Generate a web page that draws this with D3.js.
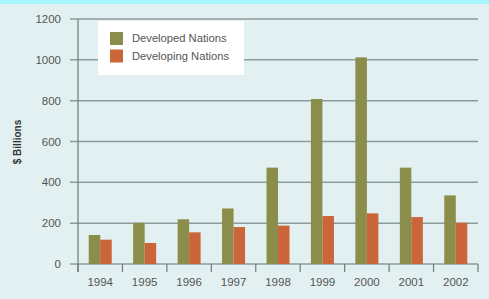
<!DOCTYPE html>
<html>
<head>
<meta charset="utf-8">
<script src="https://cdn.jsdelivr.net/npm/d3@7"></script>
<style>
  body { margin: 0; background: #e2f0f1; }
  svg { display: block; }
</style>
</head>
<body>
<div id="viz_canvas"></div>
<script>
"use strict";

var years = ["1994", "1995", "1996", "1997", "1998", "1999", "2000", "2001", "2002"];
var developed = [142, 202, 219, 272, 472, 808, 1012, 472, 336];
var developing = [119, 103, 155, 181, 188, 235, 248, 230, 202];
var seriesNames = ["Developed Nations", "Developing Nations"];
var seriesColors = ["#8b8e4a", "#cb653a"];
var yTicks = [0, 200, 400, 600, 800, 1000, 1200];

var width = 489, height = 299;
var svg = d3.select("#viz_canvas").append("svg")
    .attr("width", width)
    .attr("height", height);

svg.append("rect")
    .attr("width", width).attr("height", height)
    .attr("fill", "#e2f0f1");
svg.append("rect")
    .attr("width", width).attr("height", 4)
    .attr("fill", "#a4f6fc");

var plotLeft = 78, plotRight = 478, plotTop = 19, plotBottom = 264;

var x = d3.scaleBand().domain(years).range([plotLeft, plotRight]).paddingInner(0).paddingOuter(0);
var y = d3.scaleLinear().domain([0, 1200]).range([plotBottom, plotTop]);
var barW = 11.5;

// grid lines + y ticks
svg.append("g")
    .selectAll("line")
    .data(yTicks)
    .enter().append("line")
    .attr("x1", plotLeft - 8)
    .attr("x2", plotRight)
    .attr("y1", function (d) { return y(d); })
    .attr("y2", function (d) { return y(d); })
    .attr("stroke", "#8c9b9b")
    .attr("stroke-width", 1.5);

svg.append("g")
    .selectAll("text")
    .data(yTicks)
    .enter().append("text")
    .attr("x", 61)
    .attr("y", function (d) { return y(d); })
    .attr("dy", "0.35em")
    .attr("text-anchor", "end")
    .attr("font-family", "Liberation Sans, Arial, sans-serif")
    .attr("font-size", 11.5)
    .attr("fill", "#555")
    .text(function (d) { return d; });

// y axis line
svg.append("line")
    .attr("x1", plotLeft).attr("x2", plotLeft)
    .attr("y1", plotTop).attr("y2", plotBottom + 8)
    .attr("stroke", "#6e7a7a")
    .attr("stroke-width", 1.2);

// bars
var groups = svg.append("g")
    .selectAll("g")
    .data(years)
    .enter().append("g")
    .attr("transform", function (d) {
        return "translate(" + (x(d) + x.bandwidth() / 2 - barW) + ",0)";
    });

groups.append("rect")
    .attr("x", 0)
    .attr("y", function (d, i) { return y(developed[i]); })
    .attr("width", barW)
    .attr("height", function (d, i) { return plotBottom - y(developed[i]); })
    .attr("fill", seriesColors[0]);

groups.append("rect")
    .attr("x", barW)
    .attr("y", function (d, i) { return y(developing[i]); })
    .attr("width", barW)
    .attr("height", function (d, i) { return plotBottom - y(developing[i]); })
    .attr("fill", seriesColors[1]);

// x axis
var xAxis = d3.axisBottom(x).tickSize(0).tickPadding(14);
var gx = svg.append("g")
    .attr("transform", "translate(0," + plotBottom + ")")
    .call(xAxis);
gx.select(".domain").remove();
gx.selectAll("text")
    .attr("font-family", "Liberation Sans, Arial, sans-serif")
    .attr("font-size", 11.5)
    .attr("fill", "#555");

var boundaries = years.map(function (d) { return x(d); }).concat([plotRight]);
svg.append("g")
    .selectAll("line")
    .data(boundaries)
    .enter().append("line")
    .attr("x1", function (d) { return d; })
    .attr("x2", function (d) { return d; })
    .attr("y1", plotBottom)
    .attr("y2", plotBottom + 8)
    .attr("stroke", "#6e7a7a")
    .attr("stroke-width", 1.2);

// y label
svg.append("text")
    .attr("transform", "translate(21," + 142 + ") rotate(-90)")
    .attr("text-anchor", "middle")
    .attr("font-family", "Liberation Sans, Arial, sans-serif")
    .attr("font-size", 10)
    .attr("font-weight", "bold")
    .attr("fill", "#333")
    .text("$ Billions");

// legend
var legend = svg.append("g");
legend.append("rect")
    .attr("x", 98).attr("y", 21)
    .attr("width", 146).attr("height", 54)
    .attr("fill", "#ffffff");

var items = legend.selectAll("g")
    .data(seriesNames)
    .enter().append("g")
    .attr("transform", function (d, i) { return "translate(110," + (32 + i * 17.5) + ")"; });
items.append("rect")
    .attr("width", 13).attr("height", 13)
    .attr("fill", function (d, i) { return seriesColors[i]; });
items.append("text")
    .attr("x", 22)
    .attr("y", 6.5)
    .attr("dy", "0.35em")
    .attr("font-family", "Liberation Sans, Arial, sans-serif")
    .attr("font-size", 11.2)
    .attr("fill", "#555")
    .text(function (d) { return d; });
</script>
</body>
</html>
